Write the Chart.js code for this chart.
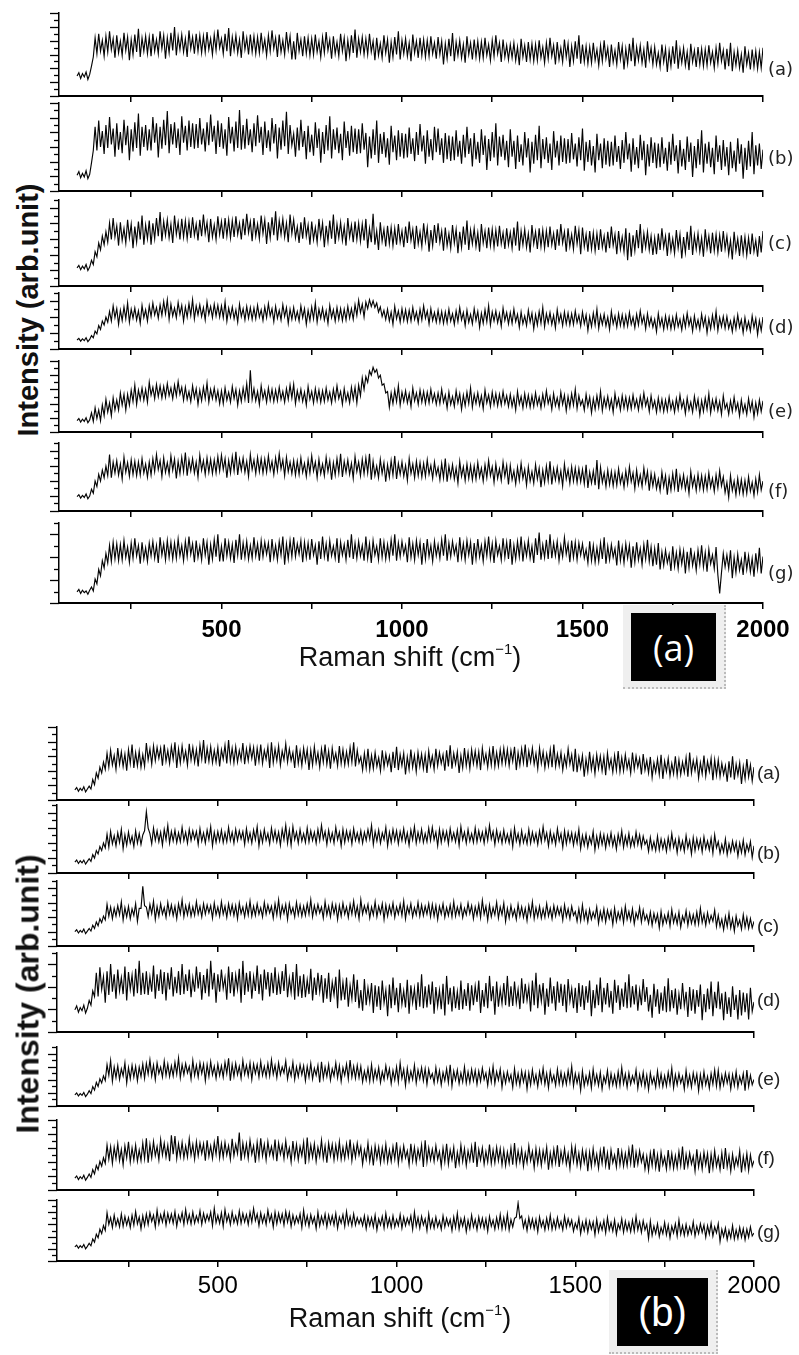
<!DOCTYPE html>
<html>
<head>
<meta charset="utf-8">
<script src="https://cdn.jsdelivr.net/npm/chart.js@4/dist/chart.umd.min.js"></script>
<style>
  body { margin: 0; background: #fff; width: 799px; height: 1355px; position: relative; overflow: hidden;
         font-family: 'Liberation Sans', Arial, sans-serif; }
  .plot { position: absolute; }
  .tag { position: absolute; transform: translateY(-50%); color: #222; white-space: nowrap; }
  .ytitle { position: absolute; transform: translate(-50%, -50%) rotate(-90deg); font-weight: bold; white-space: nowrap; color: #111; }
  .xtitle { position: absolute; transform: translate(-50%, -50%); white-space: nowrap; color: #111; }
  .xtitle sup { font-size: 55%; vertical-align: 0; position: relative; top: -0.8em; }
  .badge { position: absolute; background: #efefef; border-right: 2px dotted #bbb; border-bottom: 2px dotted #bbb; box-sizing: border-box; }
  .badge div { position: absolute; background: #000; color: #fff; display: flex; align-items: center; justify-content: center; }
</style>
</head>
<body>
<script>
// Raman shift grid (cm-1): 100 ... 2000 every 5
const shift = Array.from({ length: 381 }, (_, i) => 100 + i * 5);
const shiftTicks = [250, 500, 750, 1000, 1250, 1500, 1750, 2000];

// ---- set (a): intensities, 0-100 within each strip ----
const specA_a = [
  24,28,21,27,23,29,20,26,36,47,70,51,75,54,67,48,72,53,78,56,69,46,73,52,66,49,76,55,71,43,68,50,74,53,81,47,70,54,72,51,
  71,48,75,54,68,51,78,57,73,45,70,52,76,55,83,49,72,56,74,53,69,47,79,57,71,51,75,54,73,52,72,53,77,56,69,50,74,55,80,58,
  69,51,75,54,82,48,71,55,73,52,68,46,78,56,70,50,74,53,72,51,71,52,76,55,68,49,73,54,79,57,70,47,74,53,67,50,77,56,72,44,
  66,44,76,54,68,48,72,51,70,49,69,50,74,53,66,47,71,52,77,55,68,45,72,51,65,48,75,54,70,42,67,49,73,52,80,46,69,53,71,50,
  69,50,75,53,66,43,70,49,63,46,73,52,68,40,65,47,71,50,78,44,67,51,69,48,64,42,74,52,66,46,70,49,68,47,67,48,72,51,64,45,
  71,50,66,38,63,45,69,48,76,42,65,49,67,46,62,40,72,50,64,44,68,47,66,45,65,46,70,49,62,43,67,48,73,51,64,41,68,47,61,44,
  62,46,64,43,59,37,69,47,61,41,65,44,63,42,62,43,67,46,59,40,64,45,70,48,61,38,65,44,58,41,68,47,63,35,60,42,66,45,73,39,
  62,41,60,39,59,40,64,43,56,37,61,42,67,45,58,35,62,41,55,38,65,44,60,32,57,39,63,42,70,36,59,43,61,40,56,34,66,44,58,38,
  59,38,52,35,62,41,57,29,54,36,60,39,67,33,56,40,58,37,53,31,63,41,55,35,59,38,57,36,56,37,61,40,53,34,58,39,64,42,55,32,
  57,36,64,30,53,37,55,34,50,28,60,38,52,32,56,35,54,33,53,34,58
];
const specA_b = [
  18,22,15,20,16,23,14,19,32,46,73,46,80,50,68,42,75,49,84,53,71,39,77,47,67,43,81,52,74,35,70,45,78,49,88,40,73,50,75,46,
  70,46,84,55,77,38,73,48,81,52,91,43,76,53,78,49,71,41,85,55,74,46,80,50,77,48,76,49,83,53,71,45,78,52,87,56,74,42,80,50,
  77,48,70,40,84,54,73,45,79,49,92,47,75,48,82,52,70,44,77,51,86,55,73,41,79,49,69,45,83,54,76,37,72,47,80,51,90,42,75,52,
  65,39,72,46,81,50,68,36,74,44,64,40,78,49,71,32,67,42,75,46,85,37,70,47,72,43,65,35,79,49,68,40,74,44,71,42,70,43,77,47,
  66,27,62,37,70,41,80,32,65,42,67,38,60,30,74,44,63,35,69,39,66,37,65,38,72,42,60,34,67,41,76,45,63,31,69,39,59,35,73,44,
  71,41,60,32,66,36,63,34,62,35,69,39,57,31,64,38,73,42,60,28,66,36,56,32,70,41,63,24,59,34,67,38,77,29,62,39,64,35,57,27,
  70,39,57,25,63,33,53,29,67,38,60,21,56,31,64,35,74,26,59,36,61,32,54,24,68,38,57,29,63,33,60,31,59,32,66,36,54,28,61,35,
  71,23,56,33,58,29,51,21,65,35,54,26,60,30,57,28,56,29,63,33,51,25,58,32,67,36,54,22,60,30,50,26,64,35,57,18,53,28,61,32,
  55,26,54,27,61,31,49,23,56,30,65,34,52,20,58,28,48,24,62,33,55,16,51,26,59,30,69,21,54,31,56,27,49,19,63,33,52,24,58,28,
  50,18,56,26,46,22,60,31,53,14,49,24,57,28,67,19,52,29,54,25,47
];
const specA_c = [
  21,24,19,23,20,25,18,22,30,25,40,34,50,42,58,48,63,51,73,54,79,57,70,47,74,53,67,50,77,56,72,44,69,51,75,54,82,48,71,55,
  76,48,73,55,79,58,86,52,75,59,77,56,72,50,82,60,74,54,78,57,76,55,75,56,80,59,72,53,77,58,83,61,74,51,78,57,71,54,81,60,
  75,55,79,58,77,56,76,57,81,60,73,54,78,59,84,62,75,52,79,58,72,55,82,61,77,49,74,56,80,59,87,53,76,60,78,57,73,51,83,61,
  77,56,69,50,74,55,80,58,71,48,75,54,68,51,78,57,73,45,70,52,76,55,83,49,72,56,74,53,69,47,79,57,71,51,75,54,73,52,72,53,
  78,44,67,51,84,48,64,42,74,52,66,46,70,49,68,47,67,48,72,51,64,45,69,50,75,53,66,43,70,49,63,46,73,52,68,40,65,47,71,50,
  73,51,64,41,68,47,61,44,71,50,66,38,63,45,69,48,76,42,65,49,67,46,62,40,72,50,64,44,68,47,66,45,65,46,70,49,62,43,67,48,
  62,44,68,47,75,41,64,48,66,45,61,39,71,49,63,43,67,46,65,44,64,45,69,48,61,42,66,47,72,50,63,40,67,46,60,43,70,49,65,37,
  68,46,60,40,64,43,62,41,61,42,66,45,58,39,63,44,69,47,60,37,64,43,57,40,67,30,62,34,59,41,65,44,72,38,61,45,63,42,58,36,
  56,37,61,42,67,45,58,35,62,41,55,38,65,44,60,32,57,39,63,42,70,36,59,43,61,40,56,34,66,44,58,38,62,41,60,39,59,40,64,43,
  58,37,53,31,63,41,55,35,59,38,57,36,56,37,61,40,53,34,58,39,64
];
const specA_d = [
  16,19,14,18,15,20,13,17,24,20,32,27,42,35,50,43,57,48,67,50,77,56,72,44,69,51,75,54,82,48,71,55,73,52,68,46,78,56,70,50,
  77,58,82,61,74,55,79,60,85,63,88,53,80,59,73,56,83,62,78,50,75,57,81,60,88,54,77,61,79,58,74,52,84,62,76,56,80,59,78,57,
  77,56,84,50,73,57,75,54,70,48,80,58,72,52,76,55,74,53,73,54,78,57,70,51,75,56,81,59,72,49,76,55,69,52,79,58,74,46,71,53,
  74,53,67,50,77,56,72,44,69,51,75,54,82,48,71,55,73,52,68,46,78,56,70,50,74,53,72,51,71,52,76,55,72,53,79,60,87,65,80,57,
  84,72,88,76,86,74,82,66,75,58,69,53,71,50,66,44,76,54,68,48,72,51,70,49,69,50,74,53,66,47,71,52,77,55,68,45,72,51,65,48,
  69,48,67,46,66,47,71,50,63,44,68,49,74,52,65,42,69,48,62,45,72,51,67,39,64,46,70,49,77,43,66,50,68,47,63,41,73,51,65,45,
  65,46,71,49,62,39,66,45,59,42,69,48,64,36,61,43,67,46,74,40,63,47,65,44,60,38,70,48,62,42,66,45,64,43,63,44,68,47,60,41,
  66,45,61,33,58,40,64,43,71,37,60,44,62,41,57,35,67,45,59,39,63,42,61,40,60,41,65,44,57,38,62,43,68,46,59,36,63,42,56,39,
  53,31,63,41,55,35,59,38,57,36,56,37,61,40,53,34,58,39,64,42,55,32,59,38,52,35,62,41,57,29,54,36,60,39,67,33,56,40,58,37,
  58,37,50,31,55,36,61,39,52,29,56,35,49,32,59,38,54,26,51,33,57
];
const specA_e = [
  16,19,14,18,15,20,13,17,27,15,34,19,31,16,38,23,46,28,41,23,48,31,45,31,55,38,53,31,53,38,59,43,66,39,59,46,62,45,60,42,
  70,52,63,47,67,50,65,48,64,49,68,51,62,47,66,51,71,53,63,45,63,46,57,43,65,48,61,39,59,44,63,47,69,42,60,47,62,45,58,40,
  58,40,62,45,56,42,64,47,60,38,58,43,62,46,68,41,87,46,61,44,57,39,65,47,58,42,62,45,60,43,59,44,63,46,57,42,61,46,66,48,
  67,40,58,45,60,43,56,38,64,46,57,41,61,44,59,42,58,43,62,45,56,41,60,45,65,47,57,39,61,44,55,41,63,46,63,41,66,51,76,60,
  78,70,86,80,91,84,88,76,80,66,68,55,57,35,55,40,59,43,65,38,56,43,58,41,54,36,62,44,55,39,59,42,57,40,56,41,60,43,54,39,
  55,40,60,42,52,34,56,39,50,36,58,41,54,32,52,37,56,40,62,35,53,40,55,38,51,33,59,41,52,36,56,39,54,37,53,38,57,40,51,36,
  53,36,49,31,57,39,50,34,54,37,52,35,51,36,55,38,49,34,53,38,58,40,50,32,54,37,48,34,56,39,52,30,50,35,54,38,60,33,51,38,
  45,31,53,36,49,27,47,32,51,35,57,30,48,35,50,33,46,28,54,36,47,31,51,34,49,32,48,33,52,35,46,31,50,35,55,37,47,29,51,34,
  44,28,48,31,46,29,45,30,49,32,43,28,47,32,52,34,44,26,48,31,42,28,50,33,46,24,44,29,48,32,54,27,45,32,47,30,43,25,51,33,
  40,25,44,29,49,31,41,23,45,28,39,25,47,30,43,21,41,26,45,29,44
];
const specA_f = [
  21,24,19,23,20,25,18,22,32,26,44,36,54,44,60,49,66,52,83,49,72,56,74,53,69,47,79,57,71,51,75,54,73,52,72,53,77,56,69,50,
  72,53,77,58,83,61,74,51,78,57,71,54,81,60,76,48,73,55,79,58,86,52,75,59,77,56,72,50,82,60,74,54,78,57,76,55,75,56,80,59,
  82,61,77,49,74,56,80,59,87,53,76,60,78,57,73,51,83,61,75,55,79,58,77,56,76,57,81,60,73,54,78,59,84,62,75,52,79,58,72,55,
  74,53,73,54,78,57,70,51,75,56,81,59,72,49,76,55,69,52,79,58,74,46,71,53,77,56,84,50,73,57,75,54,70,48,80,58,72,52,76,55,
  78,56,84,46,73,52,66,49,76,55,71,43,68,50,74,53,81,47,70,54,72,51,67,45,77,55,69,49,73,52,71,50,70,51,75,54,67,48,72,53,
  64,46,70,49,77,43,66,50,68,47,63,41,73,51,65,45,69,48,67,46,66,47,71,50,63,44,68,49,74,52,65,42,69,48,62,45,72,51,67,39,
  67,46,59,40,64,45,70,48,61,38,65,44,58,41,68,47,63,35,60,42,66,45,73,39,62,46,64,43,59,37,69,47,61,41,65,44,63,42,62,43,
  61,40,68,34,57,41,59,38,75,32,64,42,56,36,60,39,58,37,57,38,62,41,54,35,59,40,65,43,56,33,60,39,53,36,63,42,58,30,55,37,
  54,33,47,30,57,36,52,24,49,31,55,34,62,28,51,35,53,32,48,26,58,36,50,30,54,33,52,31,51,32,56,35,48,29,53,34,59,37,50,27,
  42,20,52,30,44,24,48,27,46,25,45,26,50,29,42,23,47,28,53,31,44
];
const specA_g = [
  14,17,12,16,13,15,11,16,20,15,30,24,42,34,53,44,62,50,72,52,76,55,74,53,73,54,78,57,70,51,75,56,81,59,72,49,76,55,69,52,
  75,59,77,56,72,50,82,60,74,54,78,57,76,55,75,56,80,59,72,53,77,58,83,61,74,51,78,57,71,54,81,60,76,48,73,55,79,58,86,52,
  71,52,81,59,76,56,73,50,79,60,86,54,75,57,77,55,72,56,82,59,74,53,78,58,76,61,75,51,80,57,72,54,77,60,83,48,74,55,78,58,
  82,58,74,61,78,51,76,57,75,54,80,60,72,48,77,55,83,58,74,52,78,59,71,56,81,50,76,60,73,54,79,57,86,55,75,56,77,59,72,53,
  83,56,74,50,78,60,71,54,81,57,76,55,73,56,79,59,86,53,75,58,77,61,72,51,82,57,74,54,78,60,76,48,75,55,80,58,72,52,77,59,
  73,56,79,59,86,53,75,58,77,61,72,51,82,57,74,54,78,60,76,48,75,55,80,58,72,52,77,59,83,56,74,50,78,60,71,54,81,57,76,55,
  80,48,72,55,77,58,83,52,74,59,78,56,71,50,81,60,88,54,73,57,79,55,86,56,75,59,77,53,72,58,82,61,74,51,78,57,76,54,75,60,
  74,56,67,50,77,53,72,51,69,52,75,55,82,49,71,54,73,57,68,47,78,53,70,50,74,56,72,44,71,51,76,54,68,48,73,55,79,52,70,46,
  68,48,75,42,64,47,66,50,61,40,71,46,63,43,67,49,65,37,64,44,69,47,61,41,66,48,72,45,63,39,67,49,60,43,70,35,12,38,62,45,
  60,43,66,31,57,38,61,41,54,35,64,42,59,39,56,33,62,43,69,37,58
];

// ---- set (b) ----
const specB_a = [
  14,17,12,16,13,18,11,15,19,15,28,21,37,30,45,37,52,42,64,45,68,48,61,42,71,49,66,46,63,40,69,50,76,44,65,47,67,45,62,46,
  78,55,70,49,74,54,72,57,71,47,76,53,68,50,73,56,79,44,70,51,74,54,67,48,77,55,72,52,69,46,75,56,82,50,71,53,73,51,68,52,
  72,46,69,56,75,50,82,53,71,51,73,52,68,55,78,49,70,54,74,57,72,47,71,53,76,50,68,56,73,44,79,51,70,54,74,48,67,55,77,52,
  70,54,65,44,75,50,67,47,71,53,69,41,68,48,73,51,65,45,70,52,76,49,67,43,71,53,64,47,74,50,69,48,66,49,72,52,79,46,68,51,
  59,41,64,44,70,42,61,43,65,46,58,40,68,45,63,48,60,38,66,44,73,41,62,47,64,35,59,42,69,45,61,39,65,46,63,43,62,37,67,47,
  60,42,70,47,65,50,62,40,68,46,75,43,64,49,66,37,61,44,71,47,65,43,69,50,67,47,66,41,71,51,63,45,68,48,74,46,65,47,69,50,
  71,50,69,47,68,53,73,41,65,48,70,51,76,45,67,52,71,49,64,43,71,50,66,44,63,47,69,45,76,46,63,47,65,41,60,46,70,49,62,39,
  70,38,59,44,61,32,56,39,66,42,58,36,62,43,60,40,59,34,64,44,56,38,61,41,67,39,58,40,62,43,55,37,65,42,60,45,57,35,63,41,
  54,37,59,31,51,38,56,35,62,29,53,39,57,33,50,36,60,34,55,35,52,38,58,32,65,37,54,40,56,30,51,36,61,33,53,39,57,27,55,34,
  55,32,50,35,47,25,53,31,60,28,49,34,51,22,46,29,56,32,48,26,45
];
const specB_b = [
  16,19,14,18,15,19,13,17,21,17,27,22,33,28,39,33,44,37,57,38,61,43,55,40,59,45,64,36,56,41,60,44,54,39,62,44,58,42,56,62,
  90,66,58,43,66,48,62,46,60,41,64,49,70,44,61,47,63,45,59,46,67,48,60,44,64,48,62,50,61,42,65,47,59,44,63,49,68,40,60,45,
  61,47,63,45,59,46,67,48,60,44,64,48,62,50,61,42,65,47,59,44,63,49,68,40,60,45,64,48,58,43,66,48,62,46,60,41,64,49,70,44,
  63,41,68,49,60,44,64,47,58,45,66,46,62,48,60,44,64,48,70,50,61,42,63,47,59,44,67,49,60,40,64,45,62,48,61,43,65,48,59,46,
  62,44,60,48,64,50,70,42,61,47,63,44,59,49,67,40,60,45,64,48,62,43,61,48,65,46,59,41,63,49,68,44,60,47,64,45,58,46,66,48,
  67,49,60,40,64,45,62,48,61,43,65,48,59,46,63,41,68,49,60,44,64,47,58,45,66,46,62,48,60,44,64,48,70,50,61,42,63,47,59,44,
  63,46,57,44,61,39,66,47,58,42,62,45,56,43,64,44,60,46,58,42,62,46,68,48,59,40,61,45,57,42,65,47,58,38,62,43,60,46,59,41,
  58,44,64,36,55,41,57,38,53,43,61,34,54,39,58,42,56,37,55,42,59,40,53,35,57,43,62,38,54,41,58,39,52,40,60,42,56,38,54,42,
  48,32,52,35,46,33,54,34,50,36,48,32,52,36,58,38,49,30,51,35,47,32,55,37,48,28,52,33,50,36,49,31,53,36,47,34,51,29,56,37,
  46,29,42,31,50,27,43,31,47,33,45,25,44,30,48,27,42,32,46,23,40
];
const specB_c = [
  22,25,20,24,21,26,19,23,27,23,32,27,37,31,42,36,46,40,64,46,60,42,58,46,62,48,68,40,59,45,61,42,57,47,65,38,58,58,92,62,
  60,45,64,50,69,41,61,46,65,49,59,44,67,49,63,47,61,42,65,50,71,45,62,48,64,46,60,47,68,49,61,45,65,49,63,51,62,43,66,48,
  60,46,68,49,61,44,65,49,63,47,62,42,66,50,60,45,64,48,69,46,61,47,65,49,59,45,67,49,63,51,61,43,65,48,71,45,62,50,64,41,
  65,50,59,45,67,48,63,46,61,47,65,49,71,45,62,49,64,51,60,43,68,48,61,45,65,50,63,41,62,46,66,49,60,44,64,49,69,47,61,42,
  71,49,62,51,64,43,60,48,68,45,61,50,65,41,63,46,62,49,66,44,60,49,64,47,69,42,61,50,65,45,59,48,67,46,63,47,61,49,65,45,
  64,46,62,41,61,49,65,44,59,47,63,45,68,46,60,48,64,44,58,48,66,50,62,42,60,47,64,44,70,49,61,40,63,45,59,48,67,43,60,48,
  66,38,58,43,62,46,56,41,64,46,60,44,58,39,62,47,68,42,59,45,61,43,57,44,65,46,58,42,62,46,60,48,59,40,63,45,57,42,61,47,
  53,38,57,39,63,41,54,37,56,41,52,43,60,35,53,40,57,37,55,42,54,33,58,38,52,41,56,36,61,41,53,39,57,34,51,42,59,37,55,40,
  48,35,52,32,50,37,49,28,53,33,47,36,51,31,56,36,48,34,52,29,46,37,54,32,50,35,48,33,52,34,58,36,49,32,51,36,47,38,55,30,
  47,30,41,25,45,30,50,28,42,23,46,31,40,26,48,29,44,27,42,28,38
];
const specB_d = [
  28,33,25,31,27,34,24,30,40,34,52,45,75,45,82,54,70,37,77,47,86,51,73,42,79,52,69,48,83,40,76,54,72,45,80,49,90,47,75,48,
  77,47,70,51,84,42,73,52,79,48,76,40,75,54,82,45,70,49,77,47,86,48,73,52,79,44,69,51,83,55,76,41,72,49,80,45,90,54,75,37,
  73,51,79,55,69,41,83,49,76,45,72,54,80,37,90,47,75,51,77,42,70,52,84,48,73,40,79,54,76,45,75,49,82,47,70,48,77,52,86,44,
  68,50,76,41,86,45,71,43,73,44,66,48,80,40,69,47,75,51,72,37,68,42,75,38,63,47,70,30,79,40,63,41,69,32,59,42,73,38,66,30,
  53,27,67,34,56,38,62,24,59,32,58,28,65,37,53,20,60,30,69,34,56,25,62,35,52,31,66,23,59,37,55,28,63,32,73,30,58,31,60,35,
  64,23,57,33,53,29,61,21,71,35,56,26,58,30,51,28,65,29,54,33,62,27,59,34,58,38,65,24,53,32,62,30,71,39,58,22,64,32,54,36,
  62,34,71,32,58,33,64,37,54,29,68,36,61,40,57,26,65,34,75,30,60,39,62,22,55,32,69,36,58,27,64,37,61,33,60,25,67,39,55,30,
  56,24,62,32,59,28,58,37,65,20,53,30,60,34,69,25,56,35,62,31,52,23,66,37,59,28,55,32,63,30,73,31,58,35,60,27,53,34,67,38,
  57,26,47,18,61,32,54,23,50,27,58,25,68,26,53,30,55,22,48,29,62,33,51,19,57,27,54,23,53,32,60,15,48,25,55,29,64,20,51,30,
  64,29,49,15,51,23,44,19,58,28,47,16,53,21,50,25,49,16,56,26,38
];
const specB_e = [
  19,22,17,21,18,23,16,20,26,21,33,27,40,33,46,39,51,43,70,52,77,42,66,48,68,45,63,51,73,39,65,46,69,49,67,43,66,50,71,47,
  72,54,78,51,69,45,73,55,66,49,76,52,71,50,68,51,74,54,81,48,70,53,72,56,67,46,77,52,69,49,73,55,71,43,70,50,75,53,67,47,
  71,52,68,49,74,55,81,43,70,50,72,53,67,47,77,54,69,51,73,45,71,55,70,49,75,52,67,50,72,51,78,54,69,48,73,53,66,56,76,46,
  64,51,74,45,66,50,70,53,68,43,67,49,72,46,64,52,69,40,75,47,66,50,70,44,63,51,73,48,68,42,65,52,71,46,78,49,67,47,69,48,
  67,41,59,44,64,42,70,43,61,46,65,40,58,45,68,48,63,38,60,44,66,41,73,47,62,35,64,42,59,45,69,39,61,46,65,43,63,37,62,47,
  55,39,65,42,60,36,57,43,63,40,70,34,59,44,61,38,56,41,66,39,58,40,62,43,60,37,59,42,64,45,56,35,61,41,67,38,58,44,62,32,
  56,39,58,42,53,32,63,38,55,35,59,41,57,29,56,36,61,39,53,33,58,40,64,37,55,31,59,41,52,35,62,38,57,36,54,37,60,40,67,34,
  55,39,54,27,59,34,51,37,56,31,62,38,53,35,57,29,50,39,60,33,55,36,52,34,58,35,65,38,54,32,56,37,51,40,61,30,53,36,57,33,
  52,28,56,38,49,32,59,35,54,33,51,34,57,37,64,31,53,36,55,39,50,29,60,35,52,32,56,38,54,26,53,33,58,36,50,30,55,37,61,34,
  60,31,52,36,56,39,54,29,53,35,58,32,50,38,55,26,61,33,52,36,45
];
const specB_f = [
  17,20,15,19,16,21,14,18,23,18,29,23,35,29,41,34,46,38,64,44,62,38,61,45,66,42,58,36,63,46,69,40,60,43,64,41,57,42,67,45,
  74,39,65,46,69,49,62,43,72,50,67,47,64,41,78,51,77,45,66,48,68,46,63,47,73,50,65,44,69,49,67,52,66,42,71,48,63,45,68,51,
  77,46,66,47,68,50,63,44,73,49,65,52,82,42,67,48,66,45,71,51,63,39,68,46,74,49,65,43,69,50,62,47,72,41,67,51,64,45,70,48,
  60,40,70,46,65,43,62,49,68,37,75,44,64,47,66,41,61,48,71,45,63,39,67,49,65,43,64,46,69,44,61,45,66,48,72,42,63,47,67,50,
  62,37,57,44,67,41,59,35,63,45,61,39,60,42,65,40,57,41,62,44,68,38,59,43,63,46,56,36,66,42,61,39,58,45,64,33,71,40,60,43,
  58,41,63,44,55,34,60,40,66,37,57,43,61,31,54,38,64,41,59,35,56,42,62,39,69,33,58,43,60,37,55,40,65,38,57,39,61,42,59,36,
  57,35,54,38,60,36,67,37,56,40,58,34,53,39,63,42,55,32,59,38,57,35,56,41,61,29,53,36,58,39,64,33,55,40,59,37,52,31,62,41,
  61,36,53,33,57,39,55,27,54,34,59,37,51,31,56,38,62,35,53,29,57,39,50,33,60,36,55,34,52,35,58,38,65,32,54,37,56,40,51,30,
  48,28,53,35,59,32,50,26,54,36,47,30,57,33,52,31,49,32,55,35,62,29,51,34,53,37,48,27,58,33,50,30,54,36,52,24,51,31,56,34,
  47,29,53,30,60,33,49,27,51,32,46,35,56,25,48,31,52,28,50,34,42
];
const specB_g = [
  23,26,21,25,22,27,20,24,29,25,36,31,44,38,52,45,58,50,79,60,71,55,75,58,69,56,77,57,73,59,71,55,75,59,81,61,72,53,74,58,
  77,60,79,65,75,56,83,61,76,64,80,59,78,64,77,62,81,57,75,65,79,60,84,63,76,61,80,62,74,64,82,60,78,64,76,66,80,58,86,63,
  75,62,79,57,84,65,76,60,80,63,74,61,82,62,78,64,76,60,80,64,86,66,77,58,79,63,75,60,83,65,76,56,80,61,78,64,77,59,81,64,
  79,57,75,61,73,63,77,55,83,60,74,57,76,62,72,53,80,58,73,61,77,56,75,61,74,59,78,54,72,62,76,57,81,60,73,58,77,59,71,61,
  70,58,74,53,72,58,71,56,75,51,69,59,73,54,78,57,70,55,74,56,68,58,76,54,72,58,70,60,74,52,80,57,71,54,73,59,69,50,77,55,
  68,54,72,56,66,52,74,56,70,58,68,50,72,55,78,52,69,57,71,48,67,53,75,56,68,51,72,56,70,54,69,49,73,57,67,52,71,55,76,53,
  71,54,77,51,68,56,70,72,95,70,74,55,67,50,71,55,69,53,68,48,72,56,66,51,70,54,75,52,67,53,71,55,65,51,73,55,69,57,67,49,
  62,53,70,45,63,50,67,47,65,52,64,43,68,48,62,51,66,46,71,51,63,49,67,44,61,52,69,47,65,50,63,48,67,49,73,51,64,47,66,51,
  60,37,65,42,57,45,61,40,55,45,63,43,59,38,57,46,61,41,67,44,58,42,60,43,56,45,64,41,57,45,61,47,59,39,58,44,62,41,56,46,
  61,32,52,40,54,35,50,38,58,36,51,37,55,39,53,35,52,39,56,41,46
];

const tags = ['(a)', '(b)', '(c)', '(d)', '(e)', '(f)', '(g)'];

// strip layout for the two stacks (page pixels)
const panels = [
  {
    left: 59, right: 763,
    rows: [[13, 96], [103, 191], [200, 286], [293, 349], [361, 432], [443, 511], [523, 603]],
    combCounts: [13, 13, 12, 8, 11, 10, 8],
    series: [specA_a, specA_b, specA_c, specA_d, specA_e, specA_f, specA_g],
    tagX: 768, tagY: [68, 157, 242, 326, 410, 490, 572], tagFont: '18px "DejaVu Sans"',
    tickFont: { family: 'Liberation Sans', size: 24, weight: 'bold' }, tickPad: 7
  },
  {
    left: 57, right: 754,
    rows: [[727, 800], [805, 873], [881, 946], [953, 1032], [1047, 1106], [1120, 1190], [1200, 1261]],
    combCounts: [11, 10, 10, 8, 10, 11, 11],
    series: [specB_a, specB_b, specB_c, specB_d, specB_e, specB_f, specB_g],
    tagX: 757, tagY: [773, 853, 926, 1000, 1079, 1158, 1232], tagFont: '19px "Liberation Sans"',
    tickFont: { family: 'Liberation Sans', size: 24 }, tickPad: 5
  }
];

// left-axis comb: alternating long / short ticks
const combTicks = {
  id: 'combTicks',
  afterDraw(chart) {
    const y = chart.scales.y, left = chart.chartArea.left, ctx = chart.ctx;
    ctx.save();
    ctx.strokeStyle = '#000';
    ctx.lineWidth = 1.3;
    y.ticks.forEach((t, i) => {
      const py = Math.round(y.getPixelForTick(i)) + 0.5;
      const len = i % 2 ? 5 : 9;
      ctx.beginPath();
      ctx.moveTo(left - len, py);
      ctx.lineTo(left, py);
      ctx.stroke();
    });
    ctx.restore();
  }
};

function addText(cls, text, style) {
  const d = document.createElement('div');
  d.className = cls;
  d.innerHTML = text;
  Object.assign(d.style, style);
  document.body.appendChild(d);
  return d;
}

function drawStrip(panel, i) {
  const [top, bottom] = panel.rows[i];
  const last = i === panel.rows.length - 1;
  const pad = 4, yw = 14, rightPad = 40, xh = last ? 44 : 8;
  const w = panel.right - panel.left + yw + rightPad;
  const h = pad + (bottom - top) + xh;

  const box = document.createElement('div');
  box.className = 'plot';
  Object.assign(box.style, { left: (panel.left - yw) + 'px', top: (top - pad) + 'px', width: w + 'px', height: h + 'px' });
  const canvas = document.createElement('canvas');
  canvas.width = w;
  canvas.height = h;
  box.appendChild(canvas);
  document.body.appendChild(box);

  new Chart(canvas, {
    type: 'line',
    data: {
      labels: shift,
      datasets: [{ data: panel.series[i], borderColor: '#050505', borderWidth: 1.15, pointRadius: 0, tension: 0 }]
    },
    options: {
      responsive: false,
      animation: false,
      events: [],
      layout: { padding: { top: pad, right: rightPad, left: 0, bottom: 0 } },
      plugins: { legend: { display: false }, tooltip: { enabled: false } },
      scales: {
        x: {
          type: 'linear', min: 50, max: 2000,
          afterBuildTicks: s => { s.ticks = shiftTicks.map(v => ({ value: v })); },
          afterFit: s => { s.height = xh; },
          grid: { drawOnChartArea: false, tickLength: 6, color: '#000', lineWidth: 1.5 },
          border: { color: '#000', width: 2 },
          ticks: {
            display: last, autoSkip: false, maxRotation: 0,
            padding: panel.tickPad, color: '#000', font: panel.tickFont,
            callback: v => (v % 500 === 0 ? v : '')
          }
        },
        y: {
          min: 0, max: 100,
          afterFit: s => { s.width = yw; },
          grid: { display: false },
          border: { color: '#000', width: 1.5 },
          ticks: { display: false, count: panel.combCounts[i] }
        }
      }
    },
    plugins: [combTicks]
  });

  addText('tag', tags[i], { left: panel.tagX + 'px', top: panel.tagY[i] + 'px', font: panel.tagFont });
}

panels.forEach(p => p.rows.forEach((_, i) => drawStrip(p, i)));

// axis titles
addText('ytitle', 'Intensity (arb.unit)', { left: '28px', top: '310px', fontSize: '29px' });
addText('ytitle', 'Intensity (arb.unit)', { left: '28px', top: '994px', fontSize: '32px' });
addText('xtitle', 'Raman shift (cm<sup>&minus;1</sup>)', { left: '410px', top: '657px', fontSize: '27px' });
addText('xtitle', 'Raman shift (cm<sup>&minus;1</sup>)', { left: '400px', top: '1318px', fontSize: '27px' });

// panel badges
function badge(x, y, w, h, label, font) {
  const b = document.createElement('div');
  b.className = 'badge';
  Object.assign(b.style, { left: x + 'px', top: y + 'px', width: w + 'px', height: h + 'px' });
  const inner = document.createElement('div');
  Object.assign(inner.style, { left: '8px', top: '8px', width: (w - 18) + 'px', height: (h - 16) + 'px', font: font });
  inner.textContent = label;
  b.appendChild(inner);
  document.body.appendChild(b);
}
badge(623, 605, 103, 84, '(a)', '36px "Open Sans"');
badge(609, 1270, 109, 84, '(b)', '40px "Liberation Sans"');
</script>
</body>
</html>
